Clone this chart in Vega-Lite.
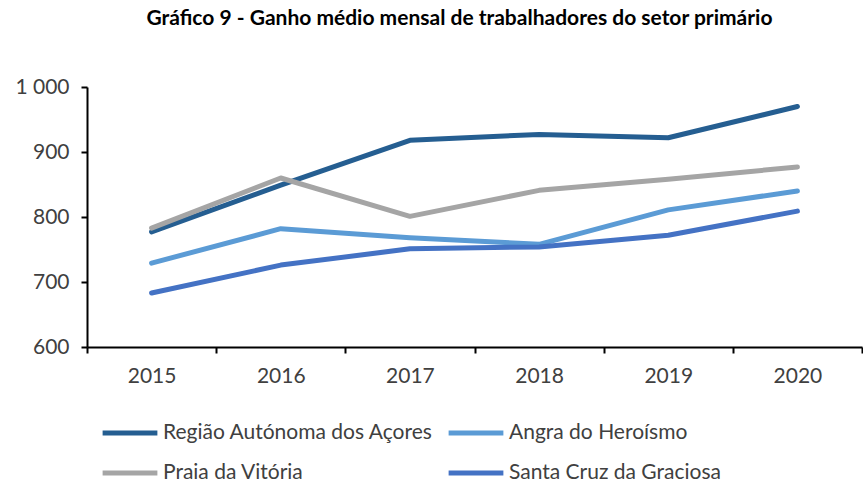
{
  "$schema": "https://vega.github.io/schema/vega-lite/v6.json",
  "width": 775,
  "height": 260,
  "autosize": {"type": "none"},
  "padding": {"left": 87, "top": 87, "right": 1, "bottom": 137},
  "background": "white",
  "title": {
    "text": "Gráfico 9 - Ganho médio mensal de trabalhadores do setor primário",
    "font": "Lato",
    "fontSize": 21,
    "fontWeight": "bold",
    "color": "#000000",
    "anchor": "middle",
    "dx": -15,
    "offset": 47
  },
  "config": {
    "view": {"stroke": null},
    "font": "Lato"
  },
  "data": {
    "values": [
      {"ano": "2015", "serie": "Região Autónoma dos Açores", "valor": 777},
      {"ano": "2016", "serie": "Região Autónoma dos Açores", "valor": 849},
      {"ano": "2017", "serie": "Região Autónoma dos Açores", "valor": 918},
      {"ano": "2018", "serie": "Região Autónoma dos Açores", "valor": 927},
      {"ano": "2019", "serie": "Região Autónoma dos Açores", "valor": 922},
      {"ano": "2020", "serie": "Região Autónoma dos Açores", "valor": 970},
      {"ano": "2015", "serie": "Angra do Heroísmo", "valor": 729},
      {"ano": "2016", "serie": "Angra do Heroísmo", "valor": 782},
      {"ano": "2017", "serie": "Angra do Heroísmo", "valor": 768},
      {"ano": "2018", "serie": "Angra do Heroísmo", "valor": 758},
      {"ano": "2019", "serie": "Angra do Heroísmo", "valor": 811},
      {"ano": "2020", "serie": "Angra do Heroísmo", "valor": 840},
      {"ano": "2015", "serie": "Praia da Vitória", "valor": 783},
      {"ano": "2016", "serie": "Praia da Vitória", "valor": 860},
      {"ano": "2017", "serie": "Praia da Vitória", "valor": 801},
      {"ano": "2018", "serie": "Praia da Vitória", "valor": 841},
      {"ano": "2019", "serie": "Praia da Vitória", "valor": 858},
      {"ano": "2020", "serie": "Praia da Vitória", "valor": 877},
      {"ano": "2015", "serie": "Santa Cruz da Graciosa", "valor": 683},
      {"ano": "2016", "serie": "Santa Cruz da Graciosa", "valor": 726},
      {"ano": "2017", "serie": "Santa Cruz da Graciosa", "valor": 751},
      {"ano": "2018", "serie": "Santa Cruz da Graciosa", "valor": 754},
      {"ano": "2019", "serie": "Santa Cruz da Graciosa", "valor": 772},
      {"ano": "2020", "serie": "Santa Cruz da Graciosa", "valor": 809}
    ]
  },
  "mark": {"type": "line", "strokeWidth": 5, "strokeCap": "round", "strokeJoin": "round"},
  "encoding": {
    "x": {
      "field": "ano",
      "type": "ordinal",
      "scale": {"type": "band", "paddingInner": 0, "paddingOuter": 0},
      "axis": {
        "title": null,
        "labelAngle": 0,
        "labelFont": "Lato",
        "labelFontSize": 21,
        "labelColor": "#404040",
        "labelPadding": 12,
        "tickBand": "extent",
        "tickSize": 6,
        "tickColor": "#000000",
        "tickWidth": 2,
        "domainColor": "#000000",
        "domainWidth": 2,
        "grid": false
      }
    },
    "y": {
      "field": "valor",
      "type": "quantitative",
      "scale": {"domain": [600, 1000], "nice": false, "zero": false},
      "axis": {
        "title": null,
        "values": [600, 700, 800, 900, 1000],
        "labelExpr": "datum.value == 1000 ? '1 000' : datum.label",
        "labelFont": "Lato",
        "labelFontSize": 21,
        "labelColor": "#404040",
        "labelPadding": 12,
        "tickSize": 6,
        "tickColor": "#000000",
        "tickWidth": 2,
        "domainColor": "#000000",
        "domainWidth": 2,
        "grid": false
      }
    },
    "color": {
      "field": "serie",
      "type": "nominal",
      "scale": {
        "domain": ["Região Autónoma dos Açores", "Praia da Vitória", "Angra do Heroísmo", "Santa Cruz da Graciosa"],
        "range": ["#255E91", "#A5A5A5", "#5B9BD5", "#4472C4"]
      },
      "legend": {
        "title": null,
        "orient": "none",
        "legendX": 13,
        "legendY": 316,
        "columns": 2,
        "symbolType": "stroke",
        "symbolSize": 3000,
        "symbolStrokeWidth": 5,
        "labelFont": "Lato",
        "labelFontSize": 21,
        "labelColor": "#404040",
        "labelOffset": 3,
        "columnPadding": 4,
        "rowPadding": -13,
        "labelLimit": 400
      }
    }
  }
}
